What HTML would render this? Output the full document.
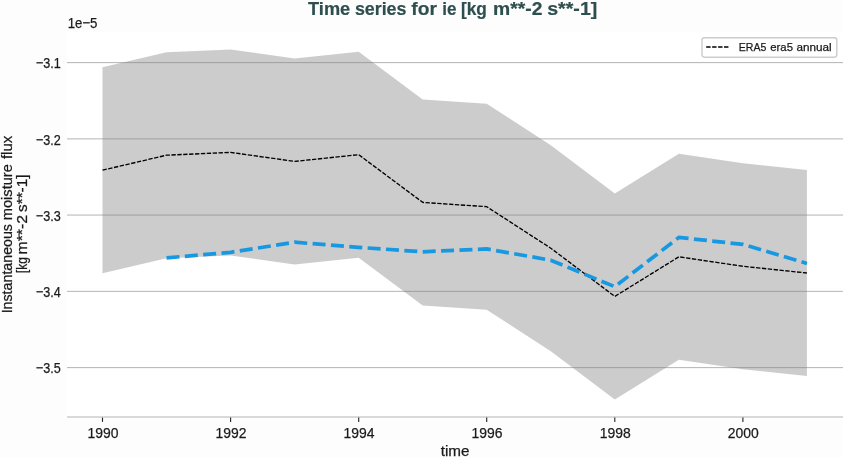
<!DOCTYPE html>
<html><head><meta charset="utf-8"><title>Time series</title>
<style>
html,body{margin:0;padding:0;background:#fdfdfd;}
body{width:843px;height:457px;overflow:hidden;font-family:"Liberation Sans",sans-serif;}
svg{display:block;transform:translateZ(0);will-change:transform;}
text{font-family:"Liberation Sans",sans-serif;fill:#1a1a1a;stroke:#1a1a1a;stroke-width:0.25px;}
.t{font-size:15.2px;}
.l{font-size:14.4px;}
.lg{font-size:11.8px;}
.title{font-size:18.4px;font-weight:bold;fill:#2f4f4f;stroke:#2f4f4f;stroke-width:0.2px;}
</style></head><body>
<svg width="843" height="457" viewBox="0 0 843 457">
<rect x="67.0" y="32" width="776.0" height="385.0" fill="#ffffff"/>
<line x1="67.0" x2="843" y1="62.62" y2="62.62" stroke="#b0b0b0" stroke-width="0.95"/>
<line x1="67.0" x2="843" y1="138.88" y2="138.88" stroke="#b0b0b0" stroke-width="0.95"/>
<line x1="67.0" x2="843" y1="215.05" y2="215.05" stroke="#b0b0b0" stroke-width="0.95"/>
<line x1="67.0" x2="843" y1="291.35" y2="291.35" stroke="#b0b0b0" stroke-width="0.95"/>
<line x1="67.0" x2="843" y1="367.62" y2="367.62" stroke="#b0b0b0" stroke-width="0.95"/>
<polygon points="102.5,67.2 166.5,52.2 230.6,49.4 294.6,58.4 358.7,51.7 422.7,99.4 486.7,103.7 550.8,145.2 614.8,193.4 678.9,153.8 742.9,163.3 806.9,170.0 806.9,376.0 742.9,369.3 678.9,359.8 614.8,399.4 550.8,351.2 486.7,309.7 422.7,305.4 358.7,257.7 294.6,264.4 230.6,255.4 166.5,258.2 102.5,273.2" fill="#808080" fill-opacity="0.4"/>
<polyline points="102.5,170.2 166.5,155.2 230.6,152.4 294.6,161.4 358.7,154.7 422.7,202.4 486.7,206.7 550.8,248.2 614.8,296.4 678.9,256.8 742.9,266.3 806.9,273.0" fill="none" stroke="#000" stroke-width="1.35" stroke-dasharray="4.35,1.54"/>
<polyline points="166.5,257.9 230.6,252.3 294.6,242.2 358.7,247.4 422.7,251.8 486.7,248.9 550.8,260.2 614.8,286.7 678.9,237.4 742.9,244.4 806.9,263.4" fill="none" stroke="#1898e0" stroke-width="3.7" stroke-dasharray="13.0,5.4"/>
<line x1="67.0" x2="843" y1="417.0" y2="417.0" stroke="#cccccc" stroke-width="1.7"/>
<line x1="102.5" x2="102.5" y1="417.6" y2="421.9" stroke="#222" stroke-width="1.1"/>
<text x="102.9" y="438.2" textLength="31.0" lengthAdjust="spacingAndGlyphs" text-anchor="middle" class="t" >1990</text>
<line x1="230.6" x2="230.6" y1="417.6" y2="421.9" stroke="#222" stroke-width="1.1"/>
<text x="231.0" y="438.2" textLength="31.0" lengthAdjust="spacingAndGlyphs" text-anchor="middle" class="t" >1992</text>
<line x1="358.7" x2="358.7" y1="417.6" y2="421.9" stroke="#222" stroke-width="1.1"/>
<text x="359.1" y="438.2" textLength="31.0" lengthAdjust="spacingAndGlyphs" text-anchor="middle" class="t" >1994</text>
<line x1="486.7" x2="486.7" y1="417.6" y2="421.9" stroke="#222" stroke-width="1.1"/>
<text x="487.1" y="438.2" textLength="31.0" lengthAdjust="spacingAndGlyphs" text-anchor="middle" class="t" >1996</text>
<line x1="614.8" x2="614.8" y1="417.6" y2="421.9" stroke="#222" stroke-width="1.1"/>
<text x="615.2" y="438.2" textLength="31.0" lengthAdjust="spacingAndGlyphs" text-anchor="middle" class="t" >1998</text>
<line x1="742.9" x2="742.9" y1="417.6" y2="421.9" stroke="#222" stroke-width="1.1"/>
<text x="743.3" y="438.2" textLength="31.0" lengthAdjust="spacingAndGlyphs" text-anchor="middle" class="t" >2000</text>
<text x="60.8" y="68.3" textLength="24.9" lengthAdjust="spacingAndGlyphs" text-anchor="end" class="t" >−3.1</text>
<text x="60.8" y="144.6" textLength="24.9" lengthAdjust="spacingAndGlyphs" text-anchor="end" class="t" >−3.2</text>
<text x="60.8" y="220.8" textLength="24.9" lengthAdjust="spacingAndGlyphs" text-anchor="end" class="t" >−3.3</text>
<text x="60.8" y="297.1" textLength="24.9" lengthAdjust="spacingAndGlyphs" text-anchor="end" class="t" >−3.4</text>
<text x="60.8" y="373.3" textLength="24.9" lengthAdjust="spacingAndGlyphs" text-anchor="end" class="t" >−3.5</text>
<text x="67.7" y="28.2" textLength="29.8" lengthAdjust="spacingAndGlyphs" text-anchor="start" class="t" >1e−5</text>
<text x="308.07" y="14.6" textLength="42.15" lengthAdjust="spacingAndGlyphs" class="title">Time</text>
<text x="354.90" y="14.6" textLength="51.52" lengthAdjust="spacingAndGlyphs" class="title">series</text>
<text x="411.28" y="14.6" textLength="25.59" lengthAdjust="spacingAndGlyphs" class="title">for</text>
<text x="442.37" y="14.6" textLength="14.16" lengthAdjust="spacingAndGlyphs" class="title">ie</text>
<text x="461.03" y="14.6" textLength="25.90" lengthAdjust="spacingAndGlyphs" class="title">[kg</text>
<text x="493.12" y="14.6" textLength="49.38" lengthAdjust="spacingAndGlyphs" class="title">m**-2</text>
<text x="547.22" y="14.6" textLength="50.11" lengthAdjust="spacingAndGlyphs" class="title">s**-1]</text>
<text x="440.7" y="455.8" textLength="28.8" lengthAdjust="spacingAndGlyphs" text-anchor="start" class="l" >time</text>
<g transform="translate(11.8,224.3) rotate(-90)"><text x="-89.05" y="0" textLength="89.32" lengthAdjust="spacingAndGlyphs" class="l">Instantaneous</text><text x="4.12" y="0" textLength="56.03" lengthAdjust="spacingAndGlyphs" class="l">moisture</text><text x="65.19" y="0" textLength="23.41" lengthAdjust="spacingAndGlyphs" class="l">flux</text></g>
<g transform="translate(27.2,224) rotate(-90)"><text x="-49.05" y="0" textLength="15.98" lengthAdjust="spacingAndGlyphs" class="l">[kg</text><text x="-30.48" y="0" textLength="39.55" lengthAdjust="spacingAndGlyphs" class="l">m**-2</text><text x="12.03" y="0" textLength="37.47" lengthAdjust="spacingAndGlyphs" class="l">s**-1]</text></g>
<rect x="702.0" y="37.7" width="134.8" height="19.5" rx="2.6" fill="#ffffff" fill-opacity="0.8" stroke="#cccccc" stroke-width="1.4"/>
<line x1="706.2" x2="729" y1="47" y2="47" stroke="#000" stroke-width="1.35" stroke-dasharray="4.4,1.55"/>
<text x="738.77" y="50.95" textLength="27.51" lengthAdjust="spacingAndGlyphs" class="lg">ERA5</text>
<text x="770.26" y="50.95" textLength="22.72" lengthAdjust="spacingAndGlyphs" class="lg">era5</text>
<text x="796.38" y="50.95" textLength="35.17" lengthAdjust="spacingAndGlyphs" class="lg">annual</text>
</svg>
</body></html>
